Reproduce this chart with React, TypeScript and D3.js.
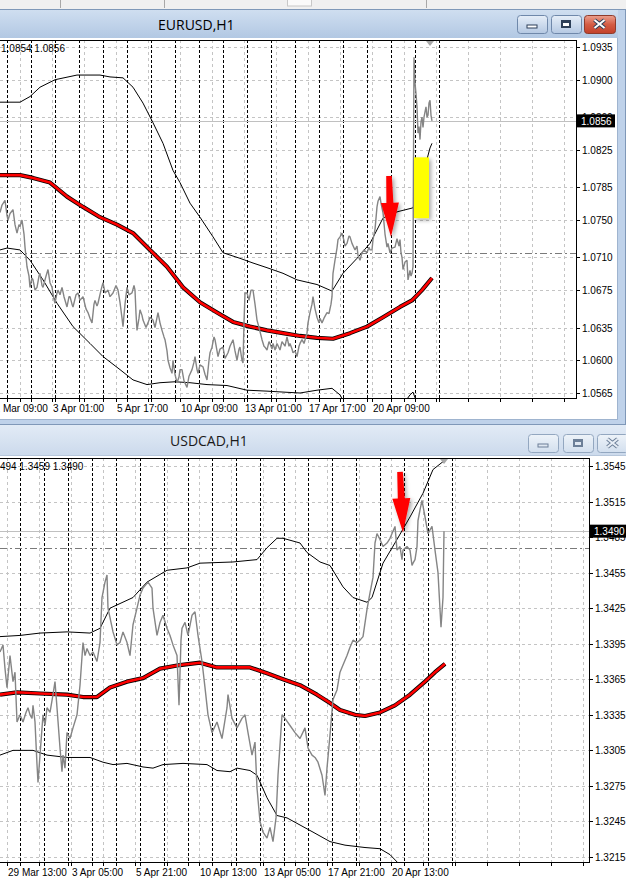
import React from 'react';
import * as d3 from 'd3';

// ================= EURUSD,H1 =================
const eurTitle = 'EURUSD,H1';
const eurOHLC = '1.0854 1.0856';
const eurPriceLabels = ['1.0935', '1.0900', '1.0860', '1.0825', '1.0785', '1.0750', '1.0710', '1.0675', '1.0635', '1.0600', '1.0565'];
const eurTimeLabels = ['31 Mar 09:00', '3 Apr 01:00', '5 Apr 17:00', '10 Apr 09:00', '13 Apr 01:00', '17 Apr 17:00', '20 Apr 09:00'];
const eurBid = 1.0856;
const eurLevel = 1.0715;
// [bar, close]
const eurClose: [number, number][] = [
  [0, 1.0758], [2, 1.0766], [5, 1.0771], [7, 1.0755], [8, 1.075], [10, 1.0757], [13, 1.0761], [15, 1.0745], [17, 1.0736], [19, 1.0745],
  [20, 1.0743], [22, 1.075], [24, 1.0735], [25, 1.0721], [27, 1.07], [29, 1.069], [30, 1.0678], [32, 1.0688], [33, 1.0686], [35, 1.0675],
  [37, 1.0678], [39, 1.069], [40, 1.0693], [42, 1.068], [43, 1.0678], [46, 1.069], [48, 1.0697], [50, 1.0683], [52, 1.0678], [54, 1.0665],
  [55, 1.0661], [57, 1.0672], [58, 1.0675], [60, 1.067], [62, 1.0678], [64, 1.0668], [67, 1.0657], [69, 1.0668], [70, 1.0668], [72, 1.066],
  [73, 1.0657], [76, 1.067], [78, 1.0672], [80, 1.0664], [83, 1.0668], [86, 1.0655], [88, 1.0651], [90, 1.0645], [92, 1.064], [94, 1.066],
  [95, 1.0664], [97, 1.0658], [98, 1.0661], [101, 1.0675], [103, 1.0683], [105, 1.0672], [108, 1.0675], [110, 1.0668], [113, 1.0672], [116, 1.068],
  [118, 1.0675], [120, 1.0662], [122, 1.0645], [123, 1.0636], [125, 1.066], [127, 1.0678], [129, 1.067], [132, 1.0672], [134, 1.068], [135, 1.0675],
  [136, 1.065], [137, 1.0632], [139, 1.0645], [140, 1.0654], [142, 1.0648], [143, 1.0643], [146, 1.0635], [148, 1.064], [150, 1.0646], [153, 1.0643],
  [155, 1.0635], [158, 1.0651], [160, 1.064], [162, 1.0632], [164, 1.0625], [165, 1.0622], [167, 1.061], [168, 1.06], [170, 1.0592], [172, 1.0586],
  [173, 1.06], [175, 1.0585], [177, 1.0576], [179, 1.0582], [180, 1.059], [182, 1.059], [184, 1.0578], [187, 1.0571], [189, 1.0583], [192, 1.059],
  [194, 1.0598], [195, 1.0604], [197, 1.059], [198, 1.0586], [200, 1.0595], [203, 1.0593], [205, 1.0585], [207, 1.0579], [209, 1.06], [210, 1.0608],
  [212, 1.0614], [214, 1.0625], [215, 1.0622], [217, 1.061], [218, 1.0604], [220, 1.0612], [223, 1.0614], [225, 1.0602], [228, 1.0608], [230, 1.0615],
  [233, 1.0622], [235, 1.061], [237, 1.06], [239, 1.0612], [240, 1.0614], [242, 1.06], [243, 1.0597], [244, 1.064], [245, 1.0672], [247, 1.0672],
  [249, 1.0664], [251, 1.0675], [253, 1.0675], [255, 1.066], [257, 1.0643], [259, 1.0635], [262, 1.0622], [264, 1.0615], [265, 1.0614], [267, 1.0611],
  [269, 1.062], [270, 1.0618], [272, 1.0612], [273, 1.0618], [275, 1.0611], [277, 1.0618], [280, 1.0611], [282, 1.062], [285, 1.0615], [287, 1.0625],
  [289, 1.0615], [290, 1.0618], [292, 1.0612], [293, 1.0608], [295, 1.061], [297, 1.0604], [299, 1.0615], [300, 1.0618], [302, 1.0622], [304, 1.0618],
  [307, 1.0629], [308, 1.064], [310, 1.0651], [312, 1.066], [313, 1.0668], [315, 1.0655], [317, 1.0646], [319, 1.064], [320, 1.0645], [322, 1.064],
  [324, 1.0645], [327, 1.0651], [329, 1.065], [331, 1.066], [332, 1.0668], [333, 1.0693], [335, 1.0707], [337, 1.072], [338, 1.0729], [340, 1.0732],
  [342, 1.0736], [344, 1.0728], [345, 1.0722], [347, 1.0725], [349, 1.0733], [350, 1.0732], [352, 1.0725], [355, 1.0718], [357, 1.0722], [358, 1.0712],
  [360, 1.0707], [362, 1.0715], [364, 1.0718], [367, 1.0715], [369, 1.0721], [370, 1.0718], [372, 1.0718], [373, 1.0729], [375, 1.074], [377, 1.0764],
  [378, 1.077], [380, 1.0775], [381, 1.0768], [383, 1.0758], [385, 1.0735], [387, 1.0721], [388, 1.0725], [390, 1.0715], [392, 1.072], [395, 1.0721],
  [397, 1.073], [399, 1.0722], [400, 1.0729], [401, 1.0715], [402, 1.071], [403, 1.0697], [405, 1.0705], [407, 1.0707], [408, 1.0686], [410, 1.0696],
  [411, 1.069], [412, 1.0693], [413, 1.07], [414, 1.0924], [415, 1.0897], [416, 1.0885], [417, 1.0871], [418, 1.0843], [419, 1.085], [420, 1.0836],
  [421, 1.0855], [422, 1.086], [423, 1.0849], [424, 1.086], [426, 1.0871], [427, 1.086], [428, 1.0862], [429, 1.0875], [430, 1.0878], [431, 1.0862],
  [432, 1.0856],
];
const eurMA: [number, number][] = [
  [0, 1.0798], [20, 1.0798], [33, 1.0795], [50, 1.079], [67, 1.0775], [83, 1.0764], [100, 1.0753], [117, 1.0745], [133, 1.0736], [150, 1.0718],
  [167, 1.07], [183, 1.0678], [200, 1.0662], [217, 1.0651], [233, 1.0641], [250, 1.0636], [267, 1.0632], [283, 1.0629], [300, 1.0626], [317, 1.0624],
  [333, 1.0623], [350, 1.0629], [367, 1.0636], [383, 1.0646], [400, 1.0657], [412, 1.0664], [422, 1.0675], [432, 1.0688],
];
const eurUpper: [number, number][] = [
  [0, 1.0876], [20, 1.0876], [30, 1.0882], [40, 1.0892], [55, 1.09], [77, 1.0905], [100, 1.0905], [110, 1.0903], [123, 1.0902], [133, 1.0892],
  [143, 1.0875], [153, 1.0854], [163, 1.0832], [173, 1.0803], [180, 1.079], [190, 1.0768], [200, 1.0753], [213, 1.0732], [223, 1.0715], [240, 1.0709],
  [253, 1.0704], [267, 1.0699], [283, 1.0693], [297, 1.0686], [317, 1.0681], [332, 1.0674], [343, 1.0693], [357, 1.0709], [370, 1.0725], [383, 1.0752],
  [390, 1.0756], [398, 1.0759], [413, 1.0763], [420, 1.0787], [430, 1.0827], [432, 1.0832],
];
const eurLower: [number, number][] = [
  [0, 1.0718], [7, 1.072], [20, 1.0718], [30, 1.0707], [43, 1.0686], [57, 1.0661], [73, 1.0636], [90, 1.0618], [103, 1.0604], [120, 1.059],
  [133, 1.0579], [147, 1.0574], [160, 1.0576], [175, 1.0577], [190, 1.0576], [207, 1.0574], [227, 1.0573], [247, 1.0568], [267, 1.0567], [283, 1.0566],
  [300, 1.0565], [317, 1.0568], [332, 1.057], [340, 1.0563], [344, 1.0555], [355, 1.0545], [370, 1.0538], [385, 1.054], [398, 1.0549], [406, 1.0557],
  [410, 1.0563], [413, 1.0566], [415, 1.056], [418, 1.0547], [425, 1.0525], [432, 1.05],
];
const eurRect = { bar0: 414, bar1: 429, p0: 1.0752, p1: 1.0817 };
const eurArrow = { tailBar: 389, tailP: 1.0797, tipBar: 391, tipP: 1.0732 };

// ================= USDCAD,H1 =================
const cadTitle = 'USDCAD,H1';
const cadOHLC = '1.3494 1.3459 1.3490';
const cadPriceLabels = ['1.3545', '1.3515', '1.3485', '1.3455', '1.3425', '1.3395', '1.3365', '1.3335', '1.3305', '1.3275', '1.3245', '1.3215'];
const cadTimeLabels = ['29 Mar 13:00', '3 Apr 05:00', '5 Apr 21:00', '10 Apr 13:00', '13 Apr 05:00', '17 Apr 21:00', '20 Apr 13:00'];
const cadBid = 1.349;
const cadLevel = 1.3476;
const cadClose: [number, number][] = [
  [0, 1.3388], [3, 1.3394], [5, 1.3374], [7, 1.3358], [10, 1.3385], [13, 1.3363], [15, 1.3371], [17, 1.3329], [20, 1.3335], [23, 1.3329],
  [26, 1.3337], [28, 1.3341], [30, 1.3335], [32, 1.3332], [33, 1.3343], [35, 1.3329], [37, 1.3293], [38, 1.3278], [40, 1.3301], [43, 1.3335],
  [45, 1.3326], [47, 1.3341], [50, 1.3337], [53, 1.3352], [55, 1.3363], [57, 1.3341], [60, 1.3307], [62, 1.3287], [63, 1.3301], [65, 1.329],
  [67, 1.332], [70, 1.3315], [73, 1.3324], [77, 1.3335], [80, 1.336], [83, 1.3396], [85, 1.3385], [87, 1.3391], [90, 1.3385], [93, 1.3388],
  [97, 1.338], [100, 1.3396], [102, 1.3434], [105, 1.3447], [107, 1.3453], [108, 1.3425], [110, 1.3417], [113, 1.3405], [117, 1.3394], [120, 1.3396],
  [123, 1.3405], [127, 1.3396], [130, 1.3385], [133, 1.3411], [137, 1.3425], [140, 1.3436], [143, 1.3442], [148, 1.3447], [152, 1.3442], [153, 1.3425],
  [157, 1.3402], [160, 1.3413], [163, 1.3419], [167, 1.3408], [170, 1.3402], [173, 1.3394], [177, 1.3385], [179, 1.3343], [181, 1.3398], [182, 1.3408],
  [185, 1.3413], [188, 1.3402], [192, 1.3419], [195, 1.3422], [198, 1.3402], [202, 1.338], [205, 1.3358], [208, 1.3335], [212, 1.332], [217, 1.3329],
  [222, 1.3315], [227, 1.3341], [228, 1.3352], [232, 1.3332], [237, 1.3324], [242, 1.3332], [245, 1.3335], [248, 1.332], [252, 1.3301], [255, 1.3312],
  [257, 1.3273], [260, 1.3245], [263, 1.3236], [267, 1.3231], [270, 1.324], [273, 1.3228], [276, 1.3248], [278, 1.3284], [282, 1.3335], [285, 1.3332],
  [290, 1.3326], [295, 1.332], [300, 1.3315], [305, 1.3324], [308, 1.3307], [312, 1.3301], [315, 1.3299], [318, 1.3295], [322, 1.3284], [325, 1.3267],
  [327, 1.329], [330, 1.3318], [333, 1.3348], [337, 1.3356], [340, 1.3371], [343, 1.3377], [347, 1.3385], [350, 1.3392], [353, 1.3398], [357, 1.3396],
  [360, 1.3398], [363, 1.3401], [367, 1.3424], [370, 1.3438], [373, 1.3451], [375, 1.348], [377, 1.3488], [380, 1.3483], [383, 1.3477], [387, 1.348],
  [390, 1.3484], [392, 1.3488], [395, 1.3494], [397, 1.3474], [400, 1.3477], [402, 1.3466], [403, 1.3474], [407, 1.3477], [410, 1.3474], [412, 1.3461],
  [413, 1.3463], [415, 1.3466], [417, 1.3477], [418, 1.3499], [420, 1.3508], [422, 1.3516], [425, 1.3502], [428, 1.3488], [430, 1.3491], [432, 1.3494],
  [435, 1.3474], [438, 1.3455], [440, 1.3424], [441, 1.3409], [443, 1.3434], [444, 1.349],
];
const cadMA: [number, number][] = [
  [0, 1.3352], [17, 1.3354], [40, 1.3353], [67, 1.3352], [83, 1.335], [97, 1.335], [110, 1.3358], [127, 1.3363], [143, 1.3366], [160, 1.3374],
  [180, 1.3377], [200, 1.3379], [217, 1.3375], [233, 1.3375], [250, 1.3375], [267, 1.337], [283, 1.3365], [300, 1.336], [317, 1.3352], [330, 1.3345],
  [340, 1.3339], [355, 1.3335], [365, 1.3334], [380, 1.3337], [395, 1.3343], [410, 1.3352], [425, 1.3363], [435, 1.3371], [445, 1.3378],
];
const cadUpper: [number, number][] = [
  [0, 1.3401], [20, 1.3402], [40, 1.3404], [67, 1.3405], [90, 1.3404], [100, 1.3408], [110, 1.3425], [133, 1.3434], [147, 1.3447], [167, 1.3457],
  [187, 1.3459], [200, 1.3463], [233, 1.3464], [257, 1.3466], [267, 1.3476], [277, 1.3484], [283, 1.3484], [300, 1.348], [307, 1.3472], [320, 1.3464],
  [330, 1.3461], [343, 1.3443], [353, 1.3434], [367, 1.343], [372, 1.3434], [383, 1.3463], [397, 1.3483], [410, 1.3502], [423, 1.3522], [433, 1.3542],
  [442, 1.3548], [445, 1.355],
];
const cadLower: [number, number][] = [
  [0, 1.3301], [13, 1.3305], [33, 1.3305], [47, 1.3301], [67, 1.3299], [90, 1.3299], [103, 1.3295], [113, 1.3293], [127, 1.3294], [143, 1.3291],
  [153, 1.329], [163, 1.3293], [183, 1.3294], [207, 1.3293], [217, 1.3288], [230, 1.3287], [237, 1.329], [250, 1.3288], [257, 1.3284], [267, 1.3265],
  [277, 1.325], [287, 1.3248], [300, 1.3242], [313, 1.3236], [330, 1.3228], [345, 1.3225], [365, 1.3223], [380, 1.3222], [390, 1.3217], [398, 1.321],
  [405, 1.3204],
];
const cadArrow = { tailBar: 400, tailP: 1.354, tipBar: 403, tipP: 1.3489 };

type Pt = [number, number];

interface ChartProps {
  id: string;
  ohlc: string;
  ohlcX: number;
  priceLabels: string[];
  timeLabels: string[];
  firstLabelBar: number;
  sepStart: number;
  sepEnd: number;
  close: Pt[];
  ma: Pt[];
  upper: Pt[];
  lower: Pt[];
  bid: number;
  level: number;
  plotTop: number;
  plotBottom: number;
  plotRight: number;
  yHi: [number, number];
  yLo: [number, number];
  shiftBar: number;
  rect?: { bar0: number; bar1: number; p0: number; p1: number };
  arrow: { tailBar: number; tailP: number; tipBar: number; tipP: number };
}

function arrowPath(x0: number, y0: number, x1: number, y1: number) {
  const dx = x1 - x0, dy = y1 - y0;
  const L = Math.hypot(dx, dy);
  const ux = dx / L, uy = dy / L;
  const nx = -uy, ny = ux;
  const hl = 34, hw = 9, sw = 3.5;
  const bx = x1 - ux * hl, by = y1 - uy * hl;
  const p = [
    [x0 + nx * sw * 0.8, y0 + ny * sw * 0.8],
    [bx + nx * sw, by + ny * sw],
    [bx + nx * hw, by + ny * hw],
    [x1, y1],
    [bx - nx * hw, by - ny * hw],
    [bx - nx * sw, by - ny * sw],
    [x0 - nx * sw * 0.8, y0 - ny * sw * 0.8],
  ];
  return 'M' + p.map((q) => q[0].toFixed(1) + ',' + q[1].toFixed(1)).join('L') + 'Z';
}

function Chart(props: ChartProps) {
  const { plotTop, plotBottom, plotRight } = props;
  const x = d3.scaleLinear().domain([0, plotRight]).range([0, plotRight]);
  const y = d3.scaleLinear().domain([props.yLo[0], props.yHi[0]]).range([props.yLo[1], props.yHi[1]]);
  const line = d3.line<Pt>().x((d) => x(d[0])).y((d) => y(d[1]));
  const clip = `clip-${props.id}`;

  const gridBars: number[] = [];
  for (let b = props.firstLabelBar; b < plotRight; b += 32) gridBars.push(b);
  const sepBars: number[] = [];
  for (let b = props.sepStart; b <= props.sepEnd; b += 24) sepBars.push(b);
  const labelBars = props.timeLabels.map((_, i) => props.firstLabelBar + i * 64);

  const bidY = y(props.bid);
  const ar = props.arrow;
  const axisFont = { fontFamily: '"Liberation Sans", Arial, sans-serif', fontSize: 10 };

  return (
    <g>
      <defs>
        <clipPath id={clip}>
          <rect x={0} y={plotTop} width={plotRight} height={plotBottom - plotTop} />
        </clipPath>
      </defs>
      <g clipPath={`url(#${clip})`}>
        {props.priceLabels.map((l) => (
          <line key={'h' + l} x1={0} x2={plotRight} y1={Math.round(y(+l)) + 0.5} y2={Math.round(y(+l)) + 0.5} stroke="#c4c4c4" strokeDasharray="3,3" />
        ))}
        {gridBars.map((b) => (
          <line key={'v' + b} x1={x(b) + 0.5} x2={x(b) + 0.5} y1={plotTop} y2={plotBottom} stroke="#c4c4c4" strokeDasharray="3,3" />
        ))}
        {sepBars.map((b) => (
          <line key={'s' + b} x1={x(b) + 0.5} x2={x(b) + 0.5} y1={plotTop} y2={plotBottom} stroke="#000" strokeDasharray="3,2" />
        ))}
        <line x1={0} x2={plotRight} y1={Math.round(y(props.level)) + 0.5} y2={Math.round(y(props.level)) + 0.5} stroke="#7a7a7a" strokeDasharray="7,3,2,3" />
        <line x1={0} x2={plotRight} y1={Math.round(bidY) + 0.5} y2={Math.round(bidY) + 0.5} stroke="#c0c0c0" />
        <path d={line(props.upper) || ''} fill="none" stroke="#000" strokeWidth={1} />
        <path d={line(props.lower) || ''} fill="none" stroke="#000" strokeWidth={1} />
        <path d={line(props.ma) || ''} fill="none" stroke="#000" strokeWidth={4.2} strokeLinejoin="round" />
        <path d={line(props.ma) || ''} fill="none" stroke="#ff0000" strokeWidth={2.6} strokeLinejoin="round" />
        <path d={line(props.close) || ''} fill="none" stroke="#858585" strokeWidth={1.4} strokeLinejoin="bevel" />
        {props.rect && (
          <rect
            x={x(props.rect.bar0)}
            y={y(props.rect.p1)}
            width={x(props.rect.bar1) - x(props.rect.bar0)}
            height={y(props.rect.p0) - y(props.rect.p1)}
            fill="#ffff00"
            filter="url(#shadow)"
          />
        )}
        <path
          d={arrowPath(x(ar.tailBar), y(ar.tailP), x(ar.tipBar), y(ar.tipP))}
          fill="#ff0000"
          filter="url(#shadow)"
        />
        <path
          d={`M${x(props.shiftBar) - 4},${plotTop + 1}L${x(props.shiftBar) + 4},${plotTop + 1}L${x(props.shiftBar)},${plotTop + 6}Z`}
          fill="#a8a8a8"
        />
        <text x={props.ohlcX} y={plotTop + 12} style={axisFont} fill="#000">
          {props.ohlc}
        </text>
      </g>
      {/* plot border */}
      <line x1={0} x2={plotRight} y1={plotTop + 0.5} y2={plotTop + 0.5} stroke="#000" />
      <line x1={0} x2={plotRight} y1={plotBottom + 0.5} y2={plotBottom + 0.5} stroke="#000" />
      <line x1={plotRight + 0.5} x2={plotRight + 0.5} y1={plotTop} y2={plotBottom + 1} stroke="#000" />
      {/* price axis */}
      {props.priceLabels.map((l) => (
        <g key={'p' + l}>
          <line x1={plotRight} x2={plotRight + 4} y1={Math.round(y(+l)) + 0.5} y2={Math.round(y(+l)) + 0.5} stroke="#000" />
          <text x={plotRight + 6} y={y(+l) + 4} style={axisFont} fill="#000">
            {l}
          </text>
        </g>
      ))}
      <rect x={plotRight + 1} y={bidY - 6.5} width={38} height={13} fill="#000" />
      <text x={plotRight + 5} y={bidY + 4} style={axisFont} fill="#fff">
        {d3.format('.4f')(props.bid)}
      </text>
      {/* time axis */}
      {gridBars.concat(sepBars).map((b, i) => (
        <line key={'t' + i} x1={x(b) + 0.5} x2={x(b) + 0.5} y1={plotBottom} y2={plotBottom + 4} stroke="#000" />
      ))}
      {props.timeLabels.map((t, i) => (
        <text key={t} x={x(labelBars[i]) + 1} y={plotBottom + 14} style={axisFont} fill="#000">
          {t}
        </text>
      ))}
    </g>
  );
}

function Btn({ x, y, w, h, kind, active }: { x: number; y: number; w: number; h: number; kind: string; active: boolean }) {
  const cx = x + w / 2, cy = y + h / 2;
  const isClose = kind === 'close';
  const fill = active ? (isClose ? 'url(#gClose)' : 'url(#gBtnA)') : 'url(#gBtnI)';
  const stroke = active ? (isClose ? '#8d3b2c' : '#6f88aa') : '#93a7c0';
  const glyph = active ? '#fff' : '#dfe7f1';
  const gStroke = active ? '#2d3f58' : '#6c7f98';
  return (
    <g>
      <rect x={x + 0.5} y={y + 0.5} width={w} height={h} rx={3} fill={fill} stroke={stroke} />
      {kind === 'min' && <rect x={cx - 5} y={cy + 1} width={10} height={3} fill={glyph} stroke={gStroke} strokeWidth={1} />}
      {kind === 'max' && (
        <g>
          <rect x={cx - 5} y={cy - 4} width={10} height={8} fill={gStroke} />
          <rect x={cx - 3} y={cy - 1} width={6} height={3} fill={glyph} />
        </g>
      )}
      {isClose && (
        <g>
          <path d={`M${cx - 5},${cy - 4}L${cx + 5},${cy + 4}M${cx + 5},${cy - 4}L${cx - 5},${cy + 4}`} stroke={gStroke} strokeWidth={4} />
          <path d={`M${cx - 5},${cy - 4}L${cx + 5},${cy + 4}M${cx + 5},${cy - 4}L${cx - 5},${cy + 4}`} stroke={active ? '#fff' : '#e8eef6'} strokeWidth={2} />
        </g>
      )}
    </g>
  );
}

export default function App() {
  const titleFont = { fontFamily: '"Open Sans", "Noto Sans", sans-serif', fontSize: 14 };
  return (
    <svg width={626} height={885} style={{ position: 'absolute', left: 0, top: 0, display: 'block' }}>
      <defs>
        <linearGradient id="gTitleA" x1="0" y1="0" x2="0" y2="1">
          <stop offset="0" stopColor="#cfdef0" />
          <stop offset="1" stopColor="#b2c8e3" />
        </linearGradient>
        <linearGradient id="gTitleI" x1="0" y1="0" x2="0" y2="1">
          <stop offset="0" stopColor="#e2ebf6" />
          <stop offset="1" stopColor="#ccdaec" />
        </linearGradient>
        <linearGradient id="gBtnA" x1="0" y1="0" x2="0" y2="1">
          <stop offset="0" stopColor="#e6eef8" />
          <stop offset="1" stopColor="#b4c8e2" />
        </linearGradient>
        <linearGradient id="gBtnI" x1="0" y1="0" x2="0" y2="1">
          <stop offset="0" stopColor="#eef3f9" />
          <stop offset="1" stopColor="#d2dfee" />
        </linearGradient>
        <linearGradient id="gClose" x1="0" y1="0" x2="0" y2="1">
          <stop offset="0" stopColor="#eba08f" />
          <stop offset="0.5" stopColor="#d45c44" />
          <stop offset="1" stopColor="#c2402a" />
        </linearGradient>
        <filter id="shadow" x="-50%" y="-50%" width="200%" height="200%">
          <feDropShadow dx={2} dy={2} stdDeviation={2} floodColor="#000" floodOpacity={0.35} />
        </filter>
      </defs>
      {/* background / toolbar strip */}
      <rect x={0} y={0} width={626} height={885} fill="#ffffff" />
      <rect x={0} y={0} width={626} height={10} fill="#f0f0f0" />
      {[60, 164, 426].map((sx) => (
        <line key={sx} x1={sx + 0.5} x2={sx + 0.5} y1={0} y2={8} stroke="#a8a8a8" />
      ))}
      <rect x={287.5} y={-1} width={24} height={7} fill="#fafafa" stroke="#c8c8c8" />

      {/* window 1 */}
      <rect x={0} y={9} width={626} height={416} fill="#bfd2ea" />
      <line x1={0} x2={626} y1={9.5} y2={9.5} stroke="#7f98b8" />
      <rect x={0} y={10} width={618} height={28} fill="url(#gTitleA)" />
      <text x={158} y={30} style={titleFont} fill="#000">
        {eurTitle}
      </text>
      <Btn x={517} y={15} w={30} h={18} kind="min" active={true} />
      <Btn x={551} y={15} w={30} h={18} kind="max" active={true} />
      <Btn x={584} y={15} w={31} h={18} kind="close" active={true} />
      <rect x={0} y={38} width={617} height={381} fill="#ffffff" />
      <line x1={617.5} x2={617.5} y1={38} y2={419} stroke="#9fb4cf" />
      <line x1={0} x2={618} y1={419.5} y2={419.5} stroke="#9fb4cf" />
      <line x1={625.5} x2={625.5} y1={10} y2={424} stroke="#7f98b8" />
      <line x1={0} x2={626} y1={424.5} y2={424.5} stroke="#7f98b8" />
      <Chart
        id="eur"
        ohlc={eurOHLC}
        ohlcX={1}
        priceLabels={eurPriceLabels}
        timeLabels={eurTimeLabels}
        firstLabelBar={-12}
        sepStart={7}
        sepEnd={439}
        close={eurClose}
        ma={eurMA}
        upper={eurUpper}
        lower={eurLower}
        bid={eurBid}
        level={eurLevel}
        plotTop={40}
        plotBottom={398}
        plotRight={576}
        yHi={[1.0935, 47]}
        yLo={[1.0565, 393]}
        shiftBar={430}
        rect={eurRect}
        arrow={eurArrow}
      />

      {/* window 2 */}
      <rect x={0} y={425} width={626} height={30} fill="url(#gTitleI)" />
      <text x={170} y={446} style={titleFont} fill="#1a1a1a">
        {cadTitle}
      </text>
      <Btn x={528} y={434} w={30} h={18} kind="min" active={false} />
      <Btn x={563} y={434} w={30} h={18} kind="max" active={false} />
      <Btn x={597} y={434} w={31} h={18} kind="close" active={false} />
      <rect x={0} y={455} width={626} height={430} fill="#ffffff" />
      <line x1={0} x2={626} y1={455.5} y2={455.5} stroke="#b7c7db" />
      <Chart
        id="cad"
        ohlc={cadOHLC}
        ohlcX={-14}
        priceLabels={cadPriceLabels}
        timeLabels={cadTimeLabels}
        firstLabelBar={7}
        sepStart={20}
        sepEnd={452}
        close={cadClose}
        ma={cadMA}
        upper={cadUpper}
        lower={cadLower}
        bid={cadBid}
        level={cadLevel}
        plotTop={458}
        plotBottom={862}
        plotRight={589}
        yHi={[1.3545, 466]}
        yLo={[1.3215, 857]}
        shiftBar={444}
        arrow={cadArrow}
      />
    </svg>
  );
}
